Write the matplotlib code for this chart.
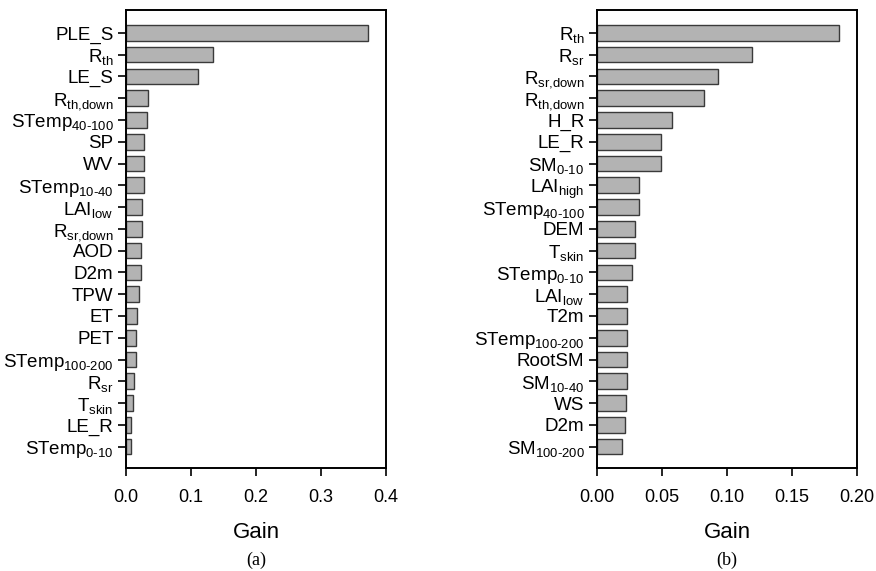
import matplotlib
matplotlib.use('Agg')
import matplotlib.pyplot as plt
import numpy as np

plt.rcParams['font.family'] = ['Liberation Sans', 'DejaVu Sans']
plt.rcParams['mathtext.fontset'] = 'custom'
plt.rcParams['mathtext.rm'] = 'Liberation Sans'
plt.rcParams['mathtext.it'] = 'Liberation Sans'

# panel (a)
left_labels = ['PLE_S', r'R$_{\text{th}}$', 'LE_S', r'R$_{\text{th,down}}$', r'STemp$_{\text{40-100}}$',
               'SP', 'WV', r'STemp$_{\text{10-40}}$', r'LAI$_{\text{low}}$', r'R$_{\text{sr,down}}$',
               'AOD', 'D2m', 'TPW', 'ET', 'PET', r'STemp$_{\text{100-200}}$', r'R$_{\text{sr}}$',
               r'T$_{\text{skin}}$', 'LE_R', r'STemp$_{\text{0-10}}$']
left_gain = [0.372, 0.134, 0.111, 0.034, 0.033, 0.028, 0.028, 0.028, 0.025, 0.024,
             0.023, 0.023, 0.020, 0.0175, 0.016, 0.015, 0.012, 0.011, 0.007, 0.007]
left_ticks = [0.0, 0.1, 0.2, 0.3, 0.4]
left_ticklabels = ['0.0', '0.1', '0.2', '0.3', '0.4']

# panel (b)
right_labels = [r'R$_{\text{th}}$', r'R$_{\text{sr}}$', r'R$_{\text{sr,down}}$', r'R$_{\text{th,down}}$',
                'H_R', 'LE_R', r'SM$_{\text{0-10}}$', r'LAI$_{\text{high}}$', r'STemp$_{\text{40-100}}$',
                'DEM', r'T$_{\text{skin}}$', r'STemp$_{\text{0-10}}$', r'LAI$_{\text{low}}$', 'T2m',
                r'STemp$_{\text{100-200}}$', 'RootSM', r'SM$_{\text{10-40}}$', 'WS', 'D2m',
                r'SM$_{\text{100-200}}$']
right_gain = [0.1865, 0.119, 0.0933, 0.0826, 0.058, 0.0495, 0.0495, 0.0326, 0.0326, 0.0292,
              0.0292, 0.0272, 0.0233, 0.0233, 0.0233, 0.0233, 0.0233, 0.022, 0.0213, 0.0195]
right_ticks = [0.0, 0.05, 0.10, 0.15, 0.20]
right_ticklabels = ['0.00', '0.05', '0.10', '0.15', '0.20']

fig = plt.figure(figsize=(8.76, 5.71), dpi=100)
ax1 = fig.add_axes([0.1438, 0.1804, 0.2968, 0.8021])
ax2 = fig.add_axes([0.6815, 0.1804, 0.2968, 0.8021])

panels = [(ax1, left_labels, left_gain, left_ticks, left_ticklabels, '(a)'),
          (ax2, right_labels, right_gain, right_ticks, right_ticklabels, '(b)')]

for ax, labels, gain, ticks, ticklabels, tag in panels:
    y = np.arange(len(labels))
    ax.barh(y, gain, height=0.72, color='#b3b3b3', edgecolor='#3a3a3a', linewidth=1.0)
    ax.set_yticks(y)
    ax.set_yticklabels(labels, fontsize=13.5)
    ax.set_ylim(len(labels) - 1 + 0.98, -1.05)
    ax.set_xlim(ticks[0], ticks[-1])
    ax.set_xticks(ticks)
    ax.set_xticklabels(ticklabels, fontsize=13)
    ax.tick_params(axis='both', direction='out', length=6, width=1.2, color='black')
    ax.tick_params(axis='x', pad=9)
    ax.tick_params(axis='y', pad=3)
    for s in ax.spines.values():
        s.set_linewidth(1.4)
    pos = ax.get_position()
    cx = pos.x0 + pos.width / 2
    fig.text(cx, 1 - 532 / 571, 'Gain', ha='center', va='center', fontsize=16)
    fig.text(cx, 1 - 560 / 571, tag, ha='center', va='center', fontsize=13,
             family='Liberation Serif')

fig.savefig('out.png', dpi=100)
